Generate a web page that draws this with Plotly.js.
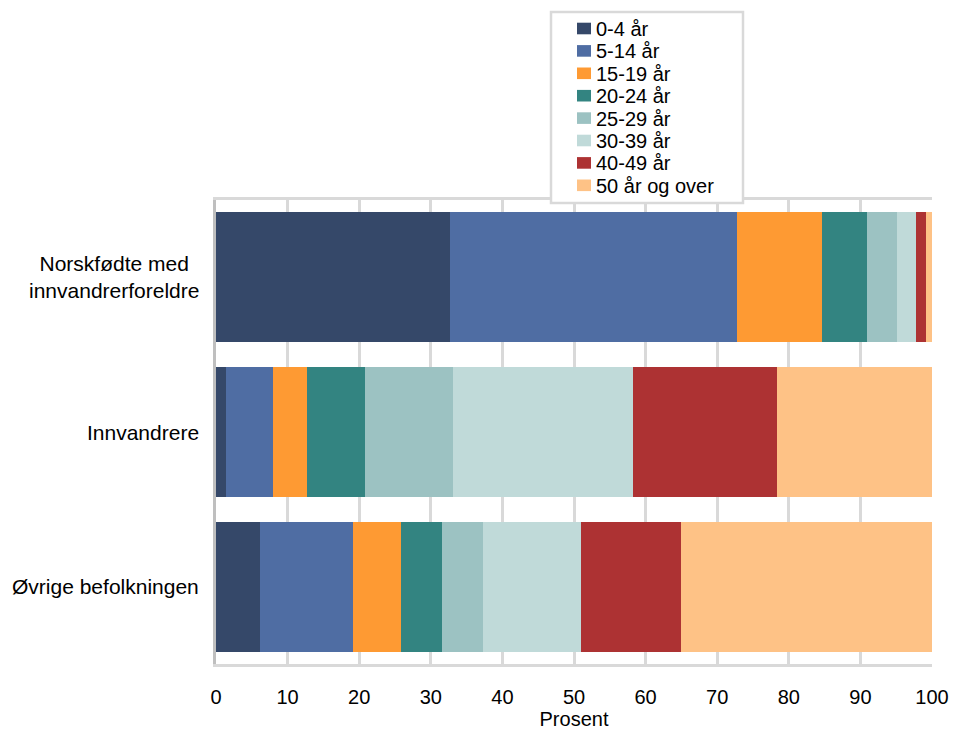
<!DOCTYPE html>
<html>
<head>
<meta charset="utf-8">
<script src="https://cdn.plot.ly/plotly-3.0.1.min.js"></script>
<style>html,body{margin:0;padding:0;background:#fff;}#chart{width:957px;height:733px;}</style>
</head>
<body>
<div id="chart"></div>
<script>
const categories = ["Norskfødte med innvandrerforeldre", "Innvandrere", "Øvrige befolkningen"];
const categoryLabels = ["Norskfødte med<br>innvandrerforeldre", "Innvandrere", "Øvrige befolkningen"];
const ageGroups = ["0-4 år", "5-14 år", "15-19 år", "20-24 år", "25-29 år", "30-39 år", "40-49 år", "50 år og over"];
const age0_4   = [32.7, 1.4, 6.1];
const age5_14  = [40.0, 6.6, 13.0];
const age15_19 = [11.9, 4.7, 6.7];
const age20_24 = [6.3, 8.1, 5.8];
const age25_29 = [4.2, 12.3, 5.7];
const age30_39 = [2.7, 25.2, 13.7];
const age40_49 = [1.3, 20.0, 14.0];
const age50up  = [0.9, 21.7, 35.0];
const seriesValues = [age0_4, age5_14, age15_19, age20_24, age25_29, age30_39, age40_49, age50up];
const colors = ["#354869", "#4f6da3", "#fe9a33", "#338481", "#9cc2c2", "#c0dad9", "#ad3233", "#fec286"];
const xTicks = [0, 10, 20, 30, 40, 50, 60, 70, 80, 90, 100];

const FONT = "Liberation Sans, Arial, sans-serif";
const W = 957, H = 733;
const M = { l: 216, r: 25, t: 200, b: 69 };
const PW = W - M.l - M.r, PH = H - M.t - M.b;
const px = v => (v - M.l) / PW;        // pixel x -> paper
const py = v => (H - M.b - v) / PH;    // pixel y -> paper

const traces = ageGroups.map((name, i) => ({
  type: "bar",
  orientation: "h",
  name: name,
  y: categories,
  x: seriesValues[i],
  width: 0.84,
  marker: { color: colors[i], line: { width: 0 } },
  hoverinfo: "name+x"
}));

const annotations = categories.map((c, i) => ({
  xref: "paper", yref: "y",
  x: 0, y: c,
  xanchor: "right", yanchor: "middle",
  xshift: -15,
  align: "center",
  showarrow: false,
  text: categoryLabels[i],
  font: { family: FONT, size: 21, color: "#000" }
}));

// legend box (custom, drawn from ageGroups / colors)
const shapes = [{
  type: "rect", xref: "paper", yref: "paper", layer: "above",
  x0: px(551), x1: px(743), y0: py(203), y1: py(12),
  line: { color: "#d9d9d9", width: 2.5 }, fillcolor: "#fff"
}];
ageGroups.forEach((name, i) => {
  const cy = 28.5 + 22.4 * i;
  shapes.push({
    type: "rect", xref: "paper", yref: "paper", layer: "above",
    x0: px(577), x1: px(591), y0: py(cy + 5.8), y1: py(cy - 5.8),
    line: { width: 0 }, fillcolor: colors[i]
  });
  annotations.push({
    xref: "paper", yref: "paper",
    x: px(594), y: py(cy + 0.5),
    xanchor: "left", yanchor: "middle",
    showarrow: false,
    text: name,
    font: { family: FONT, size: 20, color: "#000" }
  });
});

const layout = {
  width: W, height: H,
  margin: { l: M.l, r: M.r, t: M.t, b: M.b, pad: 0 },
  paper_bgcolor: "#fff",
  plot_bgcolor: "#fff",
  barmode: "stack",
  showlegend: false,
  xaxis: {
    range: [0, 100],
    tickvals: xTicks,
    ticktext: xTicks.map(String),
    ticks: "outside", ticklen: 13, tickcolor: "rgba(0,0,0,0)",
    tickfont: { family: FONT, size: 20, color: "#000" },
    showgrid: true, gridcolor: "#d9d9d9", gridwidth: 3,
    zeroline: false,
    showline: true, mirror: true, linecolor: "#d9d9d9", linewidth: 3,
    title: { text: "Prosent", font: { family: FONT, size: 20, color: "#000" }, standoff: 3 },
    fixedrange: true
  },
  yaxis: {
    type: "category",
    range: [2.5, -0.5],
    showticklabels: false,
    ticks: "",
    showgrid: false,
    zeroline: false,
    showline: true, linecolor: "#bfbfbf", linewidth: 3,
    fixedrange: true
  },
  shapes: shapes,
  annotations: annotations
};

Plotly.newPlot("chart", traces, layout, { displayModeBar: false, staticPlot: true });
</script>
</body>
</html>
